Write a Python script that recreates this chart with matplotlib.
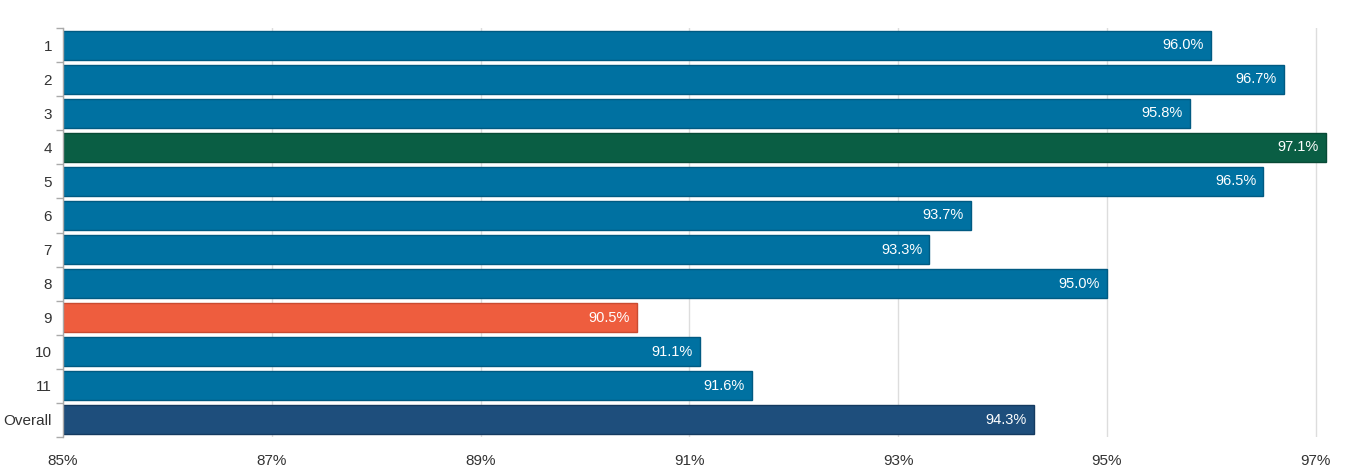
import matplotlib
matplotlib.use("Agg")
import matplotlib.pyplot as plt
import numpy as np

categories = ["1", "2", "3", "4", "5", "6", "7", "8", "9", "10", "11", "Overall"]
values = [96.0, 96.7, 95.8, 97.1, 96.5, 93.7, 93.3, 95.0, 90.5, 91.1, 91.6, 94.3]
xticks = [85, 87, 89, 91, 93, 95, 97]

blue = "#0071A1"
colors = [blue] * len(categories)
colors[3] = "#0A5E44"
colors[8] = "#EE5D3E"
colors[11] = "#1E4E7C"
edges = ["#005A82"] * len(categories)
edges[3] = "#084a36"
edges[8] = "#c94b31"
edges[11] = "#143a60"

plt.rcParams['font.family'] = ['Liberation Sans', 'DejaVu Sans']
fig = plt.figure(figsize=(13.57, 4.76), dpi=100)
ax = fig.add_axes([63/1357, 39/476, 1284/1357, 409/476])

y = np.arange(len(categories))
ax.barh(y, [v - 85 for v in values], left=85, height=0.85, color=colors,
        edgecolor=edges, linewidth=1, zorder=3)
for yi, v in zip(y, values):
    ax.text(v - 0.07, yi, f"{v:.1f}%", ha="right", va="center", color="white",
            fontsize=10.5, zorder=4)

ax.set_xlim(85, 97.3)
ax.set_ylim(len(categories) - 0.5, -0.5)
ax.set_xticks(xticks)
ax.set_xticklabels([f"{t}%" for t in xticks], fontsize=11, color="#333333")
ax.set_yticks(y)
ax.set_yticklabels(categories, fontsize=11, color="#333333")
ax.set_yticks(np.arange(-0.5, len(categories), 1), minor=True)
ax.tick_params(axis="y", which="major", length=0, pad=8)
ax.tick_params(axis="y", which="minor", length=5, color="#aaaaaa", width=1)
ax.tick_params(axis="x", which="major", length=0, pad=12)
ax.grid(axis="x", color="#dddddd", linewidth=1, zorder=0)
for s in ["top", "right", "bottom"]:
    ax.spines[s].set_visible(False)
ax.spines["left"].set_color("#aaaaaa")
ax.spines["left"].set_linewidth(1)
ax.spines["left"].set_zorder(5)

fig.savefig("out.png", dpi=100)
